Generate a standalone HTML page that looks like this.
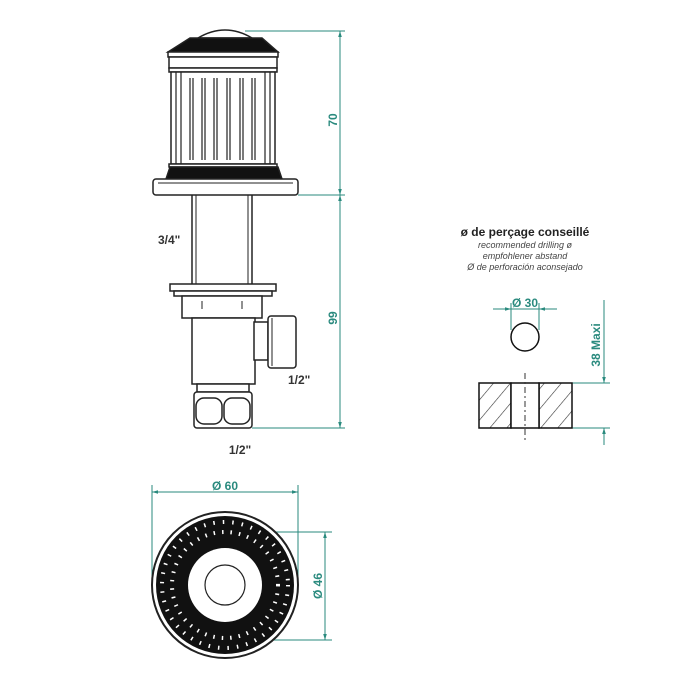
<!DOCTYPE html>
<html><head><meta charset="utf-8"><style>
html,body{margin:0;padding:0;background:#fff;}
svg{display:block;font-family:"Liberation Sans",sans-serif;}
</style></head><body>
<svg width="700" height="700" viewBox="0 0 700 700" xmlns="http://www.w3.org/2000/svg">
<defs>
<pattern id="hatch" width="13" height="13" patternUnits="userSpaceOnUse" patternTransform="rotate(40)">
<line x1="0" y1="0" x2="0" y2="13" stroke="#333" stroke-width="1.2"/>
</pattern>
<marker id="ar" viewBox="0 0 10 10" refX="10" refY="5" markerWidth="6" markerHeight="6" orient="auto-start-reverse">
<path d="M0,2 L10,5 L0,8 z" fill="#2a8a7e"/>
</marker>
</defs>
<g stroke="#222" stroke-width="1.5" fill="#fff">
<path d="M198,38 Q225,22 252,38 Z" fill="#fff"/>
<path d="M190,38 L262,38 L278,52 L168,52 Z" fill="#111"/>
<rect x="168" y="52" width="110" height="5"/>
<rect x="169" y="57" width="108" height="11"/>
<rect x="169" y="68" width="108" height="4"/>
<rect x="171" y="72" width="104" height="92"/>
<g stroke-width="1.2">
<line x1="176" y1="72" x2="176" y2="164"/><line x1="181" y1="72" x2="181" y2="164"/>
<line x1="265" y1="72" x2="265" y2="164"/><line x1="270" y1="72" x2="270" y2="164"/>
<line x1="190" y1="78" x2="190" y2="160"/><line x1="193" y1="78" x2="193" y2="160"/>
<line x1="202" y1="78" x2="202" y2="160"/><line x1="205" y1="78" x2="205" y2="160"/>
<line x1="214" y1="78" x2="214" y2="160"/><line x1="217" y1="78" x2="217" y2="160"/>
<line x1="227" y1="78" x2="227" y2="160"/><line x1="230" y1="78" x2="230" y2="160"/>
<line x1="240" y1="78" x2="240" y2="160"/><line x1="243" y1="78" x2="243" y2="160"/>
<line x1="252" y1="78" x2="252" y2="160"/><line x1="255" y1="78" x2="255" y2="160"/>
</g>
<rect x="169" y="164" width="108" height="3"/>
<path d="M170,167 L278,167 L282,179 L166,179 Z" fill="#111"/>
<rect x="153" y="179" width="145" height="16" rx="3"/>
<line x1="158" y1="183" x2="293" y2="183" stroke-width="1"/>
<line x1="192" y1="195" x2="192" y2="284"/>
<line x1="196" y1="195" x2="196" y2="284" stroke-width="1"/>
<line x1="252" y1="195" x2="252" y2="284"/>
<line x1="248" y1="195" x2="248" y2="284" stroke-width="1"/>
<rect x="170" y="284" width="106" height="7"/>
<rect x="174" y="291" width="98" height="5"/>
<rect x="182" y="296" width="80" height="22"/>
<line x1="202" y1="301" x2="202" y2="309" stroke-width="1"/><line x1="242" y1="301" x2="242" y2="309" stroke-width="1"/>
<rect x="192" y="318" width="63" height="66"/>
<rect x="254" y="322" width="14" height="38"/>
<rect x="268" y="316" width="28" height="52" rx="3"/>
<line x1="272" y1="318" x2="272" y2="366" stroke-width="1"/>
<rect x="197" y="384" width="52" height="8"/>
<rect x="194" y="392" width="58" height="36" rx="3"/>
<rect x="196" y="398" width="26" height="26" rx="8"/>
<rect x="224" y="398" width="26" height="26" rx="8"/>
</g>
<g stroke="#2a8a7e" stroke-width="1" fill="none">
<line x1="245" y1="31" x2="345" y2="31"/>
<line x1="298" y1="195" x2="345" y2="195"/>
<line x1="252" y1="428" x2="345" y2="428"/>
<line x1="340" y1="31" x2="340" y2="195" marker-start="url(#ar)" marker-end="url(#ar)"/>
<line x1="340" y1="195" x2="340" y2="428" marker-start="url(#ar)" marker-end="url(#ar)"/>
<line x1="152" y1="485" x2="152" y2="585"/>
<line x1="298" y1="485" x2="298" y2="585"/>
<line x1="152" y1="492" x2="298" y2="492" marker-start="url(#ar)" marker-end="url(#ar)"/>
<line x1="225" y1="532" x2="332" y2="532"/>
<line x1="225" y1="640" x2="332" y2="640"/>
<line x1="325" y1="532" x2="325" y2="640" marker-start="url(#ar)" marker-end="url(#ar)"/>
<line x1="511" y1="303" x2="511" y2="330"/>
<line x1="539" y1="303" x2="539" y2="330"/>
<line x1="493" y1="309" x2="511" y2="309" marker-end="url(#ar)"/>
<line x1="557" y1="309" x2="539" y2="309" marker-end="url(#ar)"/>
<line x1="511" y1="309" x2="539" y2="309"/>
<line x1="572" y1="383" x2="610" y2="383"/>
<line x1="572" y1="428" x2="610" y2="428"/>
<line x1="604" y1="300" x2="604" y2="383" marker-end="url(#ar)"/>
<line x1="604" y1="445" x2="604" y2="428" marker-end="url(#ar)"/>
</g>
<g fill="#2a8a7e" font-weight="bold" font-size="12">
<text x="0" y="0" transform="translate(337,120) rotate(-90)" text-anchor="middle">70</text>
<text x="0" y="0" transform="translate(337,318) rotate(-90)" text-anchor="middle">99</text>
<text x="225" y="490" text-anchor="middle">Ø 60</text>
<text x="0" y="0" transform="translate(322,586) rotate(-90)" text-anchor="middle">Ø 46</text>
<text x="525" y="307" text-anchor="middle">Ø 30</text>
<text x="0" y="0" transform="translate(600,345) rotate(-90)" text-anchor="middle">38 Maxi</text>
</g>
<g fill="#333" font-size="12" font-weight="bold">
<text x="158" y="244">3/4"</text>
<text x="288" y="384">1/2"</text>
<text x="240" y="454" text-anchor="middle">1/2"</text>
</g>
<circle cx="225" cy="585" r="73" fill="#fff" stroke="#222" stroke-width="2"/>
<circle cx="225" cy="585" r="69" fill="#111"/>
<circle cx="225" cy="585" r="63" fill="none" stroke="#fff" stroke-width="4" stroke-dasharray="1.5 8"/>
<circle cx="225" cy="585" r="53" fill="none" stroke="#fff" stroke-width="4" stroke-dasharray="1.5 7"/>
<circle cx="225" cy="585" r="37" fill="#fff"/>
<circle cx="225" cy="585" r="20" fill="none" stroke="#222" stroke-width="1.2"/>
<g text-anchor="middle" fill="#222">
<text x="525" y="236" font-size="12" font-weight="bold">ø de perçage conseillé</text>
<text x="525" y="248" font-size="9" font-style="italic" fill="#444">recommended drilling ø</text>
<text x="525" y="259" font-size="9" font-style="italic" fill="#444">empfohlener abstand</text>
<text x="525" y="270" font-size="9" font-style="italic" fill="#444">Ø de perforación aconsejado</text>
</g>
<circle cx="525" cy="337" r="14" fill="#fff" stroke="#111" stroke-width="1.5"/>
<rect x="479" y="383" width="32" height="45" fill="url(#hatch)" stroke="#111" stroke-width="1.5"/>
<rect x="539" y="383" width="33" height="45" fill="url(#hatch)" stroke="#111" stroke-width="1.5"/>
<rect x="511" y="383" width="28" height="45" fill="#fff" stroke="#111" stroke-width="1.5"/>
<line x1="525" y1="373" x2="525" y2="440" stroke="#333" stroke-width="1" stroke-dasharray="6 3 2 3"/>
</svg>
</body></html>
